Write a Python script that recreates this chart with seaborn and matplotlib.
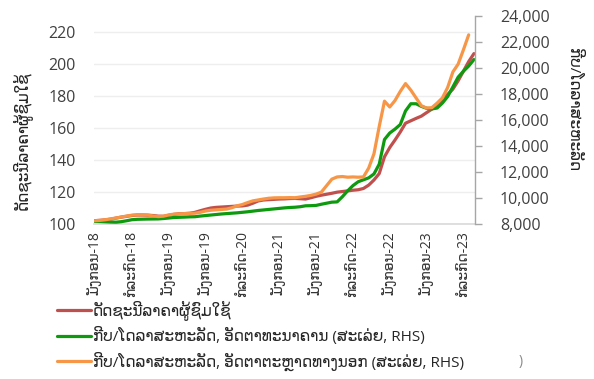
import numpy as np
import pandas as pd
import matplotlib
matplotlib.use("Agg")
import matplotlib.pyplot as plt
import seaborn as sns
from matplotlib.ticker import FuncFormatter

# x-axis labels (every 7th month)
tick_labels = ["ມັງກອນ-18", "ກໍລະກົດ-18", "ມັງກອນ-19", "ມັງກອນ-19", "ກໍລະກົດ-20",
               "ມັງກອນ-21", "ມັງກອນ-21", "ກໍລະກົດ-22", "ມັງກອນ-22", "ມັງກອນ-23", "ກໍລະກົດ-23"]

series_names = ["ດັດຊະນີລາຄາຜູ້ຊົມໃຊ້",
                "ກີບ/ໂດລາສະຫະລັດ, ອັດຕາທະນາຄານ (ສະເລ່ຍ, RHS)",
                "ກີບ/ໂດລາສະຫະລັດ, ອັດຕາຕະຫຼາດທາງນອກ (ສະເລ່ຍ, RHS)"]

# Consumer price index (left axis), monthly
cpi = [102.1, 102.3, 102.6, 103.0, 103.7, 104.3, 104.8, 105.3, 105.6, 105.6,
       105.5, 105.3, 104.9, 104.8, 105.4, 106.0, 106.4, 106.5, 106.7, 107.3,
       108.3, 109.2, 110.0, 110.4, 110.6, 110.8, 111.0, 111.2, 111.3, 111.8,
       113.0, 114.4, 115.0, 115.2, 115.4, 115.6, 115.7, 115.9, 116.0, 115.8,
       115.6, 116.4, 117.3, 118.0, 118.6, 119.2, 119.9, 120.3, 120.7, 121.1,
       121.4, 122.2, 124.3, 127.5, 131.5, 142.0, 147.8, 152.5, 157.5, 163.0,
       164.5, 166.0, 167.4, 169.6, 171.8, 174.5, 177.5, 181.0, 184.3, 189.5,
       195.5, 201.5, 206.5]

# Kip per US dollar, commercial bank rate (right axis)
bank_rate = [8200, 8190, 8170, 8150, 8140, 8180, 8250, 8330, 8360, 8370,
             8380, 8385, 8390, 8420, 8460, 8500, 8515, 8530, 8550, 8560,
             8610, 8650, 8690, 8730, 8770, 8800, 8830, 8860, 8900, 8940,
             8990, 9040, 9080, 9120, 9160, 9200, 9240, 9270, 9290, 9330,
             9400, 9410, 9430, 9520, 9600, 9680, 9700, 10100, 10550, 10950,
             11250, 11400, 11550, 11850, 12600, 14500, 15000, 15300, 15650, 16700,
             17250, 17250, 17050, 16900, 16850, 16920, 17300, 17800, 18550, 19300,
             19750, 20150, 20650]

# Kip per US dollar, parallel market rate (right axis)
market_rate = [8250, 8280, 8330, 8400, 8460, 8540, 8610, 8680, 8700, 8700,
               8690, 8620, 8570, 8600, 8700, 8760, 8780, 8800, 8820, 8830,
               8900, 9000, 9060, 9090, 9120, 9150, 9250, 9400, 9500, 9650,
               9780, 9850, 9920, 9980, 10010, 10020, 10020, 10030, 10020, 10080,
               10130, 10200, 10300, 10450, 10950, 11450, 11620, 11650, 11600, 11620,
               11600, 11620, 12300, 13400, 15500, 17450, 17000, 17500, 18200, 18800,
               18300, 17700, 17100, 16920, 16950, 17300, 17700, 18500, 19700, 20300,
               21400, 22550, np.nan]

month = np.arange(len(cpi))
df = pd.DataFrame({"month": month, "cpi": cpi, "bank": bank_rate, "market": market_rate})

sns.set_theme(style="white")
plt.rcParams["font.family"] = ["Open Sans", "DejaVu Sans"]

RED = "#c0504d"
GREEN = "#0e9a0e"
ORANGE = "#f79646"
TXT = "#404040"

fig = plt.figure(figsize=(5.94, 3.79), dpi=100)
ax = fig.add_axes([94 / 594, 1 - 224 / 379, (475 - 94) / 594, (224 - 16) / 379])
ax2 = ax.twinx()

sns.lineplot(data=df, x="month", y="cpi", ax=ax, color=RED, linewidth=2.3,
             label=series_names[0], legend=False)
sns.lineplot(data=df, x="month", y="bank", ax=ax2, color=GREEN, linewidth=2.3,
             label=series_names[1], legend=False)
sns.lineplot(data=df.dropna(), x="month", y="market", ax=ax2, color=ORANGE, linewidth=2.3,
             label=series_names[2], legend=False)

ax.set_xlim(-0.2, 72.2)
ax.set_ylim(100, 230)
ax.set_yticks(range(100, 221, 20))
ax2.set_ylim(8000, 24000)
ax2.set_yticks(range(8000, 24001, 2000))
ax2.yaxis.set_major_formatter(FuncFormatter(lambda v, p: f"{int(v):,}"))

ax.set_xticks(np.arange(0, 71, 7))
ax.set_xticklabels(tick_labels, rotation=90, fontsize=10, color="#333333")
ax.tick_params(axis="x", length=0, pad=5)
ax.tick_params(axis="y", length=0, pad=13, labelsize=11.5, labelcolor=TXT)
ax2.tick_params(axis="y", length=5, width=1, color="#a6a6a6", pad=13,
                labelsize=11.5, labelcolor=TXT, direction="out")

ax.set_xlabel("")
ax.set_ylabel("")
ax2.set_ylabel("")

ax.grid(axis="y", color="#eeeeee", linewidth=1)
ax.grid(axis="x", visible=False)
ax2.grid(False)

for a in (ax, ax2):
    for side in ("top", "left", "right", "bottom"):
        a.spines[side].set_visible(False)
ax.spines["bottom"].set_visible(True)
ax.spines["bottom"].set_color("#d9d9d9")
ax.spines["bottom"].set_linewidth(1.2)
ax2.spines["right"].set_visible(True)
ax2.spines["right"].set_color("#a6a6a6")
ax2.spines["right"].set_linewidth(1)

fig.text(22 / 594, 1 - 141 / 379, series_names[0], rotation=90, ha="center", va="center",
         fontsize=11, color="#222222")
fig.text(573 / 594, 1 - 110 / 379, "ກີບ/ໂດລາສະຫະລັດ", rotation=270, ha="center", va="center",
         fontsize=11, color="#222222")

handles = ax.get_lines()[:1] + ax2.get_lines()[:2]
fig.legend(handles, series_names, loc="upper left", bbox_to_anchor=(57 / 594, 1 - 300 / 379),
           frameon=False, fontsize=11, handlelength=2.2, handletextpad=0.15,
           labelspacing=0.45, borderpad=0, borderaxespad=0)
fig.text(521 / 594, 1 - 362 / 379, ")", ha="center", va="center", fontsize=10, color="#888888")

fig.savefig("out.png", dpi=100)
